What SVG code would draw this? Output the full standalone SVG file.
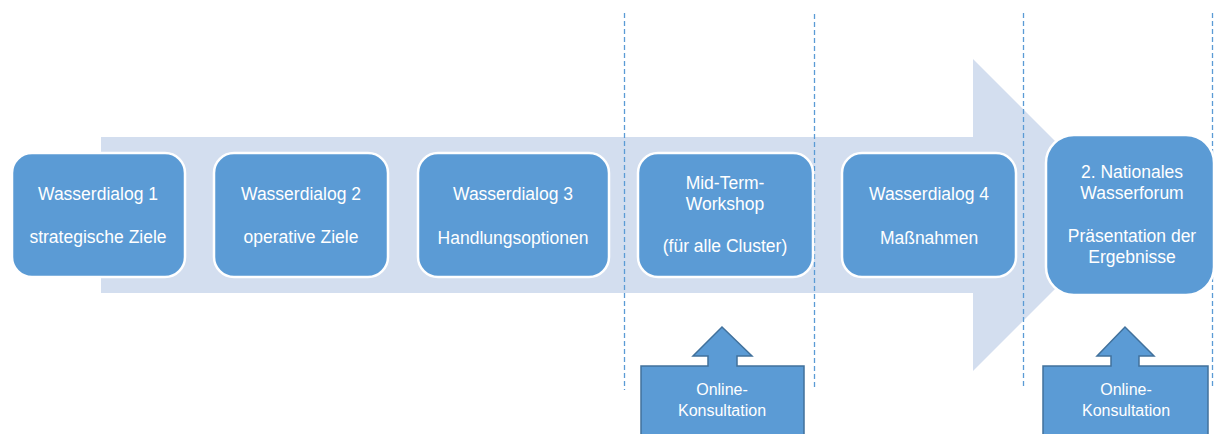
<svg xmlns="http://www.w3.org/2000/svg" width="1215" height="434" viewBox="0 0 1215 434">
<style>
.box{fill:#5B9BD5;stroke:#FFFFFF;stroke-width:2.5}
.call{fill:#5B9BD5;stroke:#41719C;stroke-width:1.5}
.t{font-family:"Liberation Sans","Noto Sans",sans-serif;font-size:17.5px;fill:#FFFFFF;text-anchor:middle}
.ts{font-family:"Liberation Sans","Noto Sans",sans-serif;font-size:16px;fill:#FFFFFF;text-anchor:middle}
.guide{stroke:#5B9BD5;stroke-width:1.3;stroke-dasharray:5 3;fill:none}
</style>
<rect width="1215" height="434" fill="#FFFFFF"/>
<g id="connectors">
<polygon id="process-arrow" points="101,137 973,137 973,59 1129,215 973,371 973,293 101,293" fill="#D3DEEF"/>
</g>
<g id="guides">
<line class="guide" x1="624.5" y1="13" x2="624.5" y2="390"/>
<line class="guide" x1="814.5" y1="14" x2="814.5" y2="390"/>
<line class="guide" x1="1023.5" y1="13" x2="1023.5" y2="389"/>
<line class="guide" x1="1212.5" y1="13" x2="1212.5" y2="389"/>
</g>
<g id="node-wd1">
<rect class="box" x="12" y="153" width="173" height="124" rx="20"/>
<text class="t" x="98" y="200">Wasserdialog 1</text>
<text class="t" x="98" y="243">strategische Ziele</text>
</g>
<g id="node-wd2">
<rect class="box" x="214" y="153" width="174" height="124" rx="20"/>
<text class="t" x="301" y="200">Wasserdialog 2</text>
<text class="t" x="301" y="243">operative Ziele</text>
</g>
<g id="node-wd3">
<rect class="box" x="418" y="153" width="191" height="124" rx="20"/>
<text class="t" x="513" y="200">Wasserdialog 3</text>
<text class="t" x="513" y="244">Handlungsoptionen</text>
</g>
<g id="node-midterm">
<rect class="box" x="638" y="153" width="175" height="124" rx="20"/>
<text class="t" x="725" y="189">Mid-Term-</text>
<text class="t" x="725" y="210">Workshop</text>
<text class="t" x="725" y="252">(für alle Cluster)</text>
</g>
<g id="node-wd4">
<rect class="box" x="842" y="153" width="174" height="124" rx="20"/>
<text class="t" x="929" y="200">Wasserdialog 4</text>
<text class="t" x="929" y="244">Maßnahmen</text>
</g>
<g id="node-forum">
<rect class="box" x="1046" y="135" width="168" height="160" rx="28"/>
<text class="t" x="1132" y="178">2. Nationales</text>
<text class="t" x="1132" y="199">Wasserforum</text>
<text class="t" x="1132" y="242">Präsentation der</text>
<text class="t" x="1132" y="263">Ergebnisse</text>
</g>
<g id="node-online1">
<polygon class="call" points="641,366 708,366 708,356 693,356 722,327 752,356 737,356 737,366 804,366 804,440 641,440"/>
<text class="ts" x="722" y="395">Online-</text>
<text class="ts" x="722" y="416">Konsultation</text>
</g>
<g id="node-online2">
<polygon class="call" points="1043,366 1111,366 1111,356 1097,356 1125,327 1154,356 1139,356 1139,366 1208,366 1208,440 1043,440"/>
<text class="ts" x="1126" y="395">Online-</text>
<text class="ts" x="1126" y="416">Konsultation</text>
</g>
</svg>
